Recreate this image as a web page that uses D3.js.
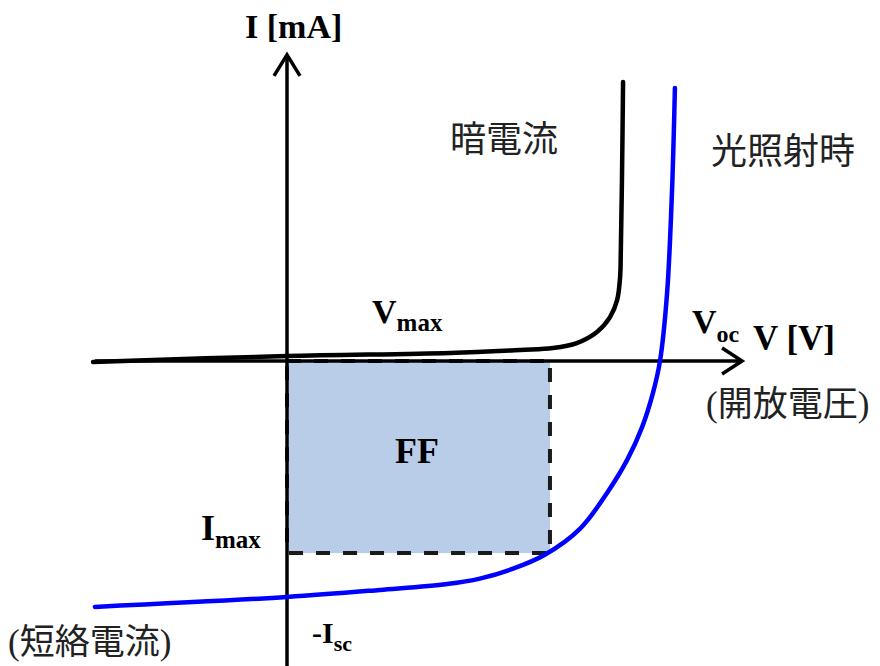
<!DOCTYPE html>
<html>
<head>
<meta charset="utf-8">
<script src="https://cdn.jsdelivr.net/npm/d3@7"></script>
<style>
  html, body { margin: 0; padding: 0; background: #fff; }
  svg { display: block; }
</style>
</head>
<body>
<svg id="chart" width="880" height="666"></svg>
<script>
// Normalised units: V / Voc and I / Isc
const darkV  = [-0.52, 0.0, 0.437, 0.625, 0.713, 0.777, 0.831, 0.866, 0.885, 0.893, 0.895, 0.898, 0.901];
const darkI  = [-0.004, 0.021, 0.034, 0.047, 0.055, 0.076, 0.123, 0.186, 0.258, 0.356, 0.470, 0.767, 1.182];
const lightV = [-0.515, 0.0, 0.249, 0.429, 0.517, 0.606, 0.690, 0.786, 0.858, 0.912, 0.952, 0.981, 1.0, 1.019, 1.032, 1.040];
const lightI = [-1.042, -1.0, -0.970, -0.945, -0.922, -0.880, -0.822, -0.710, -0.559, -0.419, -0.280, -0.136, 0.0, 0.288, 0.712, 1.157];
const maxPowerPoint = { V: 0.705, I: -0.814 };
const axisRangeV = [-0.515, 1.22];
const axisRangeI = [-1.3, 1.297];
const labels = {
  yAxis: "I [mA]", xAxis: "V [V]", dark: "暗電流", light: "光照射時",
  voc: "(開放電圧)", isc: "(短絡電流)", ff: "FF"
};

const svg = d3.select("#chart");
const x = d3.scaleLinear().domain([0, 1]).range([287, 660]);
const y = d3.scaleLinear().domain([0, -1]).range([361, 597]);

// FF rectangle
svg.append("rect")
  .attr("x", x(0)).attr("y", y(0))
  .attr("width", x(maxPowerPoint.V) - x(0))
  .attr("height", y(maxPowerPoint.I) - y(0))
  .attr("fill", "#b9cde9")
  .attr("stroke", "#1a1a1a").attr("stroke-width", 4)
  .attr("stroke-dasharray", "14,13");

const line = d3.line().x(d => x(d[0])).y(d => y(d[1])).curve(d3.curveCatmullRom.alpha(0.5));

// Dark curve
svg.append("path")
  .datum(darkV.map((v, i) => [v, darkI[i]]))
  .attr("d", line).attr("fill", "none")
  .attr("stroke", "#000").attr("stroke-width", 4.5).attr("stroke-linecap", "round");

// Axes
const axisG = svg.append("g").attr("stroke", "#000").attr("stroke-width", 3.5).attr("fill", "none")
  .attr("stroke-linecap", "butt");
axisG.append("line").attr("x1", x(axisRangeV[0])).attr("x2", x(axisRangeV[1]) - 2)
  .attr("y1", y(0)).attr("y2", y(0));
axisG.append("line").attr("x1", x(0)).attr("x2", x(0))
  .attr("y1", y(axisRangeI[0])).attr("y2", y(axisRangeI[1]) + 2);
const xt = x(axisRangeV[1]), yt = y(axisRangeI[1]);
axisG.append("path").attr("d", `M${xt - 20},${y(0) - 13} L${xt},${y(0)} L${xt - 20},${y(0) + 13}`)
  .attr("stroke-linejoin", "miter");
axisG.append("path").attr("d", `M${x(0) - 13},${yt + 21} L${x(0)},${yt} L${x(0) + 13},${yt + 21}`)
  .attr("stroke-linejoin", "miter");

// Light curve
svg.append("path")
  .datum(lightV.map((v, i) => [v, lightI[i]]))
  .attr("d", line).attr("fill", "none")
  .attr("stroke", "#0000ff").attr("stroke-width", 4.5).attr("stroke-linecap", "round");

// Text
const serif = "'Liberation Serif', 'Times New Roman', serif";
const cjk = "'Liberation Serif', 'Noto Sans CJK JP', sans-serif";

function sub(xp, yp, main, subTxt, fs, sfs, dy) {
  const t = svg.append("text").attr("x", xp).attr("y", yp)
    .attr("font-family", serif).attr("font-weight", "bold").attr("font-size", fs).attr("fill", "#000");
  t.append("tspan").text(main);
  t.append("tspan").attr("font-size", sfs).attr("dy", dy).text(subTxt);
}

svg.append("text").attr("x", 245).attr("y", 38)
  .attr("font-family", serif).attr("font-weight", "bold").attr("font-size", 34).text(labels.yAxis);
svg.append("text").attr("x", 753).attr("y", 350)
  .attr("font-family", serif).attr("font-weight", "bold").attr("font-size", 35).text(labels.xAxis);

sub(692, 333, "V", "oc", 34, 24, 9);
sub(372, 323, "V", "max", 34, 25, 8);
sub(201, 540, "I", "max", 36, 25, 8);
sub(312, 643, "-I", "sc", 30, 22, 8);

svg.append("text").attr("x", 417).attr("y", 463).attr("text-anchor", "middle")
  .attr("font-family", serif).attr("font-weight", "bold").attr("font-size", 36).text(labels.ff);

svg.append("text").attr("x", 450).attr("y", 152)
  .attr("font-family", cjk).attr("font-size", 36).attr("fill", "#222").text(labels.dark);
svg.append("text").attr("x", 711).attr("y", 164)
  .attr("font-family", cjk).attr("font-size", 36).attr("fill", "#222").text(labels.light);
svg.append("text").attr("x", 706).attr("y", 416)
  .attr("font-family", cjk).attr("font-size", 35).attr("fill", "#222").text(labels.voc);
svg.append("text").attr("x", 8).attr("y", 654)
  .attr("font-family", cjk).attr("font-size", 35).attr("fill", "#222").text(labels.isc);
</script>
</body>
</html>
